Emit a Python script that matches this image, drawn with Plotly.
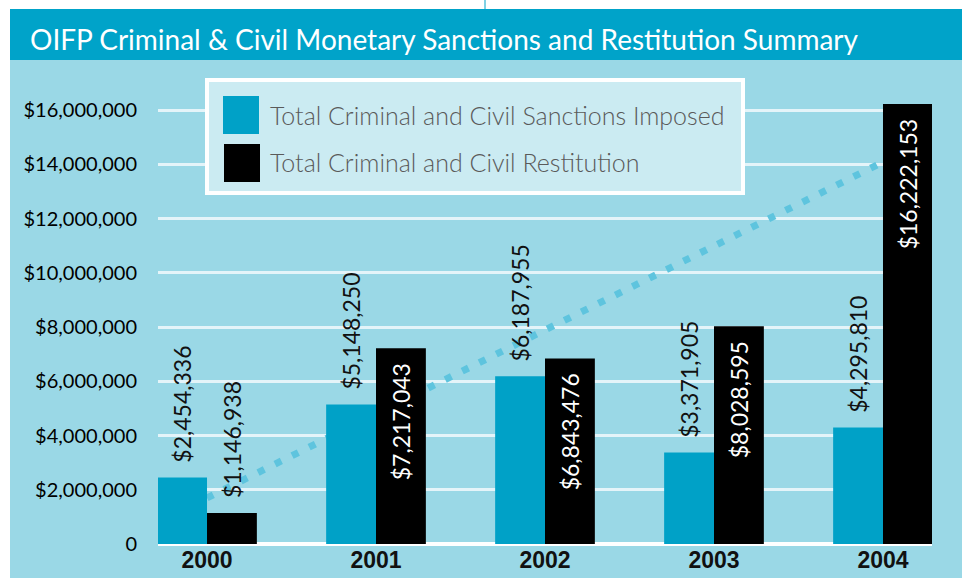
import numpy as np
import plotly.graph_objects as go

years = ["2000", "2001", "2002", "2003", "2004"]
sanctions = [2454336, 5148250, 6187955, 3371905, 4295810]
restitution = [1146938, 7217043, 6843476, 8028595, 16222153]
series_names = ["Total Criminal and Civil Sanctions Imposed", "Total Criminal and Civil Restitution"]
y_ticks = [0, 2000000, 4000000, 6000000, 8000000, 10000000, 12000000, 14000000, 16000000]
y_ticktext = ["0"] + ["${:,}".format(v) for v in y_ticks[1:]]
title_text = "OIFP Criminal & Civil Monetary Sanctions and Restitution Summary"

W, H = 965, 578
L, R, T, B = 158, 33, 83, 34
PW, PH = W - L - R, H - T - B

def px(x):
    return (x - L) / PW

def py(y):
    return (H - B - y) / PH

BG = "#9AD8E6"
TEAL = "#00A1C7"
BAND = "#00A3C9"
GILL = "Lato, 'Open Sans', sans-serif"

# linear trend of restitution
coef = np.polyfit(np.arange(len(years)), restitution, 1)
trend_y = [np.polyval(coef, 0), np.polyval(coef, len(years) - 1)]

NB = "\u00a0"
fig = go.Figure()

fig.add_trace(go.Scatter(
    x=[years[0], years[-1]], y=trend_y, mode="lines",
    line=dict(color="#5EC4DE", width=7, dash="7px,12px"),
    showlegend=False, hoverinfo="skip", xaxis="x", yaxis="y"))

fig.add_trace(go.Bar(
    x=years, y=sanctions, name=series_names[0], marker=dict(color=TEAL, line=dict(width=0)),
    text=[NB + NB + "${:,}".format(v) for v in sanctions],
    texttemplate="%{text}",
    textposition="outside", textangle=-90, cliponaxis=False,
    outsidetextfont=dict(family=GILL, size=23, color="#111111"),
    constraintext="none", showlegend=False, xaxis="x2", yaxis="y2"))

rest_pos = ["outside"] + ["inside"] * (len(years) - 1)
rest_text = [NB + NB + "${:,}".format(restitution[0])] + \
    ["${:,}".format(v) + NB + NB for v in restitution[1:]]
fig.add_trace(go.Bar(
    x=years, y=restitution, name=series_names[1], marker=dict(color="#000000", line=dict(width=0)),
    text=rest_text, texttemplate="%{text}",
    textposition=rest_pos, textangle=-90, insidetextanchor="end", cliponaxis=False,
    insidetextfont=dict(family=GILL, size=23, color="#ffffff"),
    outsidetextfont=dict(family=GILL, size=23, color="#111111"),
    constraintext="none", showlegend=False, xaxis="x2", yaxis="y2"))

xr = [-0.29, 4.29]
yr = [0, 17000000]

shapes = [
    # light blue panel
    dict(type="rect", xref="paper", yref="paper", x0=px(10), x1=px(962), y0=py(578), y1=py(60),
         fillcolor=BG, line=dict(width=0), layer="below"),
    # title band
    dict(type="rect", xref="paper", yref="paper", x0=px(10), x1=px(962), y0=py(60), y1=py(9),
         fillcolor=BAND, line=dict(width=0), layer="below"),
    dict(type="line", xref="paper", yref="paper", x0=px(485), x1=px(485), y0=py(9), y1=py(0),
         line=dict(color=BAND, width=1)),
    # legend box
    dict(type="rect", xref="paper", yref="paper", x0=px(207), x1=px(743), y0=py(193), y1=py(80),
         fillcolor="#CBEBF2", line=dict(color="#ffffff", width=4), layer="above"),
    dict(type="rect", xref="paper", yref="paper", x0=px(223), x1=px(259), y0=py(134), y1=py(96),
         fillcolor=TEAL, line=dict(width=0), layer="above"),
    dict(type="rect", xref="paper", yref="paper", x0=px(224), x1=px(260), y0=py(182), y1=py(144),
         fillcolor="#000000", line=dict(width=0), layer="above"),
]

annotations = [
    dict(text=series_names[0], xref="paper", yref="paper", x=px(268), y=py(115),
         xanchor="left", yanchor="middle", showarrow=False,
         font=dict(family=GILL, size=25, color="#5a5a5a", weight=300)),
    dict(text=series_names[1], xref="paper", yref="paper", x=px(268), y=py(162),
         xanchor="left", yanchor="middle", showarrow=False,
         font=dict(family=GILL, size=25, color="#5a5a5a", weight=300)),
]

fig.update_layout(
    width=W, height=H,
    margin=dict(l=L, r=R, t=T, b=B, pad=0, autoexpand=False),
    paper_bgcolor="#ffffff", plot_bgcolor="rgba(0,0,0,0)",
    barmode="group", bargap=0.41, bargroupgap=0,
    title=dict(text=title_text, xref="container", yref="container",
               x=30 / W, y=1 - 40 / H, xanchor="left", yanchor="middle", automargin=False,
               font=dict(family=GILL, size=28, color="#ffffff")),
    xaxis=dict(type="category", categoryorder="array", categoryarray=years, range=xr,
               showgrid=False, zeroline=False, showline=False, ticks="", automargin=False,
               tickfont=dict(family="'Liberation Sans', Arial, sans-serif", size=23, color="#111111", weight="bold"),
               fixedrange=True),
    yaxis=dict(range=yr, tickvals=y_ticks, ticktext=y_ticktext, automargin=False,
               showgrid=True, gridcolor="#E4F4F9", gridwidth=3,
               zeroline=True, zerolinecolor="#ffffff", zerolinewidth=4,
               showline=False, ticks="outside", ticklen=16, tickcolor="rgba(0,0,0,0)",
               tickfont=dict(family=GILL, size=20, color="#000000"), fixedrange=True),
    xaxis2=dict(type="category", categoryorder="array", categoryarray=years, range=xr,
                overlaying="x", visible=False, fixedrange=True, automargin=False),
    yaxis2=dict(range=yr, overlaying="y", visible=False, fixedrange=True, automargin=False),
    shapes=shapes, annotations=annotations,
)

fig.write_html("out.html")
